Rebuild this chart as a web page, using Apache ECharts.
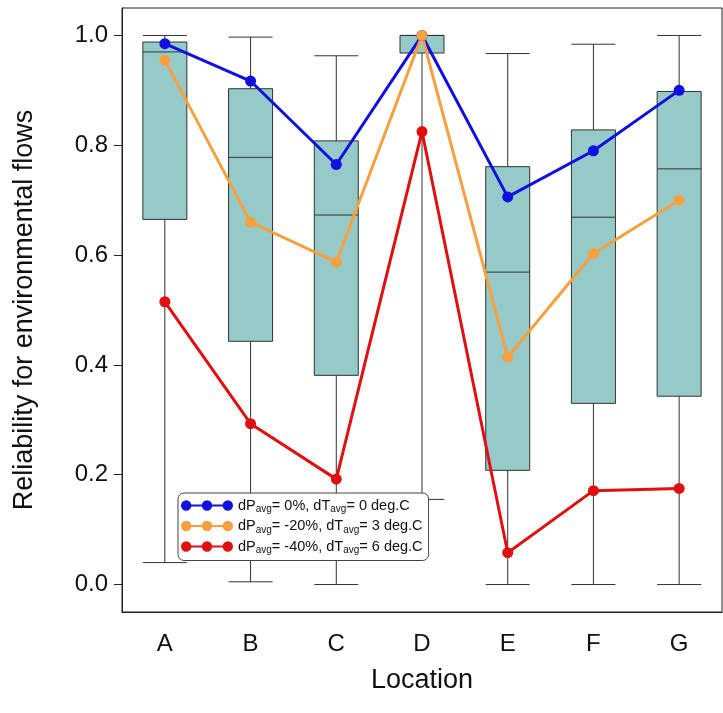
<!DOCTYPE html>
<html lang="en">
<head>
<meta charset="UTF-8">
<title>Reliability</title>
<script src="https://cdn.jsdelivr.net/npm/echarts@6/dist/echarts.min.js"></script>
<style>html,body{margin:0;padding:0;background:#fff}</style>
</head>
<body>
<div id="main" style="width:723px;height:713px;"></div>
<script type="text/javascript">
var locations = ['A', 'B', 'C', 'D', 'E', 'F', 'G'];
// min, Q1, median, Q3, max
var boxes = [
    [0.04, 0.665, 0.97, 0.988, 1.0],
    [0.005, 0.443, 0.778, 0.903, 0.997],
    [0.0, 0.381, 0.673, 0.808, 0.963],
    [0.155, 0.968, 1.0, 1.0, 1.0],
    [0.0, 0.208, 0.569, 0.761, 0.967],
    [0.0, 0.33, 0.669, 0.828, 0.984],
    [0.0, 0.343, 0.757, 0.898, 1.0]
];
var s0 = [0.985, 0.917, 0.765, 1.0, 0.706, 0.79, 0.9];
var s20 = [0.955, 0.66, 0.587, 1.0, 0.414, 0.603, 0.7];
var s40 = [0.515, 0.293, 0.192, 0.825, 0.058, 0.171, 0.175];
var yTicks = [0, 0.2, 0.4, 0.6, 0.8, 1.0];

var legendText = {
    's0': '{n|dP}{s|avg}{n|= 0%, dT}{s|avg}{n|= 0 deg.C}',
    's20': '{n|dP}{s|avg}{n|= -20%, dT}{s|avg}{n|= 3 deg.C}',
    's40': '{n|dP}{s|avg}{n|= -40%, dT}{s|avg}{n|= 6 deg.C}'
};
var dotsIcon = 'path://M5,4H45V6H5Z M0,5a5,5 0 1,1 10,0a5,5 0 1,1 -10,0Z M20,5a5,5 0 1,1 10,0a5,5 0 1,1 -10,0Z M40,5a5,5 0 1,1 10,0a5,5 0 1,1 -10,0Z';

var myChart = echarts.init(document.getElementById('main'));

function lineSeries(name, data, color) {
    return {
        name: name, type: 'line', data: data,
        symbol: 'circle', symbolSize: 11,
        itemStyle: {color: color},
        lineStyle: {color: color, width: 3},
        z: 5
    };
}

var option = {
    animation: false,
    textStyle: {fontFamily: 'Liberation Sans'},
    grid: {left: 122, right: 1, top: 8, bottom: 101, show: true, borderColor: '#222', borderWidth: 1},
    xAxis: {
        type: 'category', data: locations,
        name: 'Location', nameLocation: 'middle', nameGap: 55,
        nameTextStyle: {fontSize: 27, color: '#111'},
        axisLine: {onZero: false, lineStyle: {color: '#222'}},
        axisTick: {alignWithLabel: true, length: 8, lineStyle: {color: '#222'}},
        axisLabel: {fontSize: 24, color: '#111', margin: 20}
    },
    yAxis: {
        type: 'value', min: -0.05, max: 1.05,
        name: 'Reliability for environmental flows', nameLocation: 'middle', nameGap: 84,
        nameTextStyle: {fontSize: 27, color: '#111'},
        splitLine: {show: false},
        axisLine: {show: true, lineStyle: {color: '#222'}},
        axisTick: {show: true, length: 8, customValues: yTicks, lineStyle: {color: '#222'}},
        axisLabel: {fontSize: 24, color: '#111', margin: 14, customValues: yTicks,
            formatter: function (v) { return v.toFixed(1); }}
    },
    legend: {
        orient: 'vertical', left: 178, top: 493,
        data: [
            {name: 's0', icon: dotsIcon},
            {name: 's20', icon: dotsIcon},
            {name: 's40', icon: dotsIcon}
        ],
        backgroundColor: '#fff', borderColor: '#444', borderWidth: 1, borderRadius: 6,
        padding: [5, 6, 5, 3], itemGap: 4, itemWidth: 52, itemHeight: 11,
        formatter: function (name) { return legendText[name]; },
        textStyle: {
            rich: {
                n: {fontSize: 14.5, color: '#111', fontFamily: 'Liberation Sans'},
                s: {fontSize: 10, color: '#111', padding: [8, 0, 0, 0], fontFamily: 'Liberation Sans'}
            }
        },
        itemStyle: {borderWidth: 0}
    },
    series: [{
        name: 'box', type: 'boxplot', data: boxes,
        boxWidth: [44, 44],
        itemStyle: {color: '#95cac8', borderColor: '#333', borderWidth: 1},
        z: 2
    },
        lineSeries('s0', s0, '#1010e0'),
        lineSeries('s20', s20, '#f7a040'),
        lineSeries('s40', s40, '#e01010')
    ]
};
myChart.setOption(option);
</script>
</body>
</html>
